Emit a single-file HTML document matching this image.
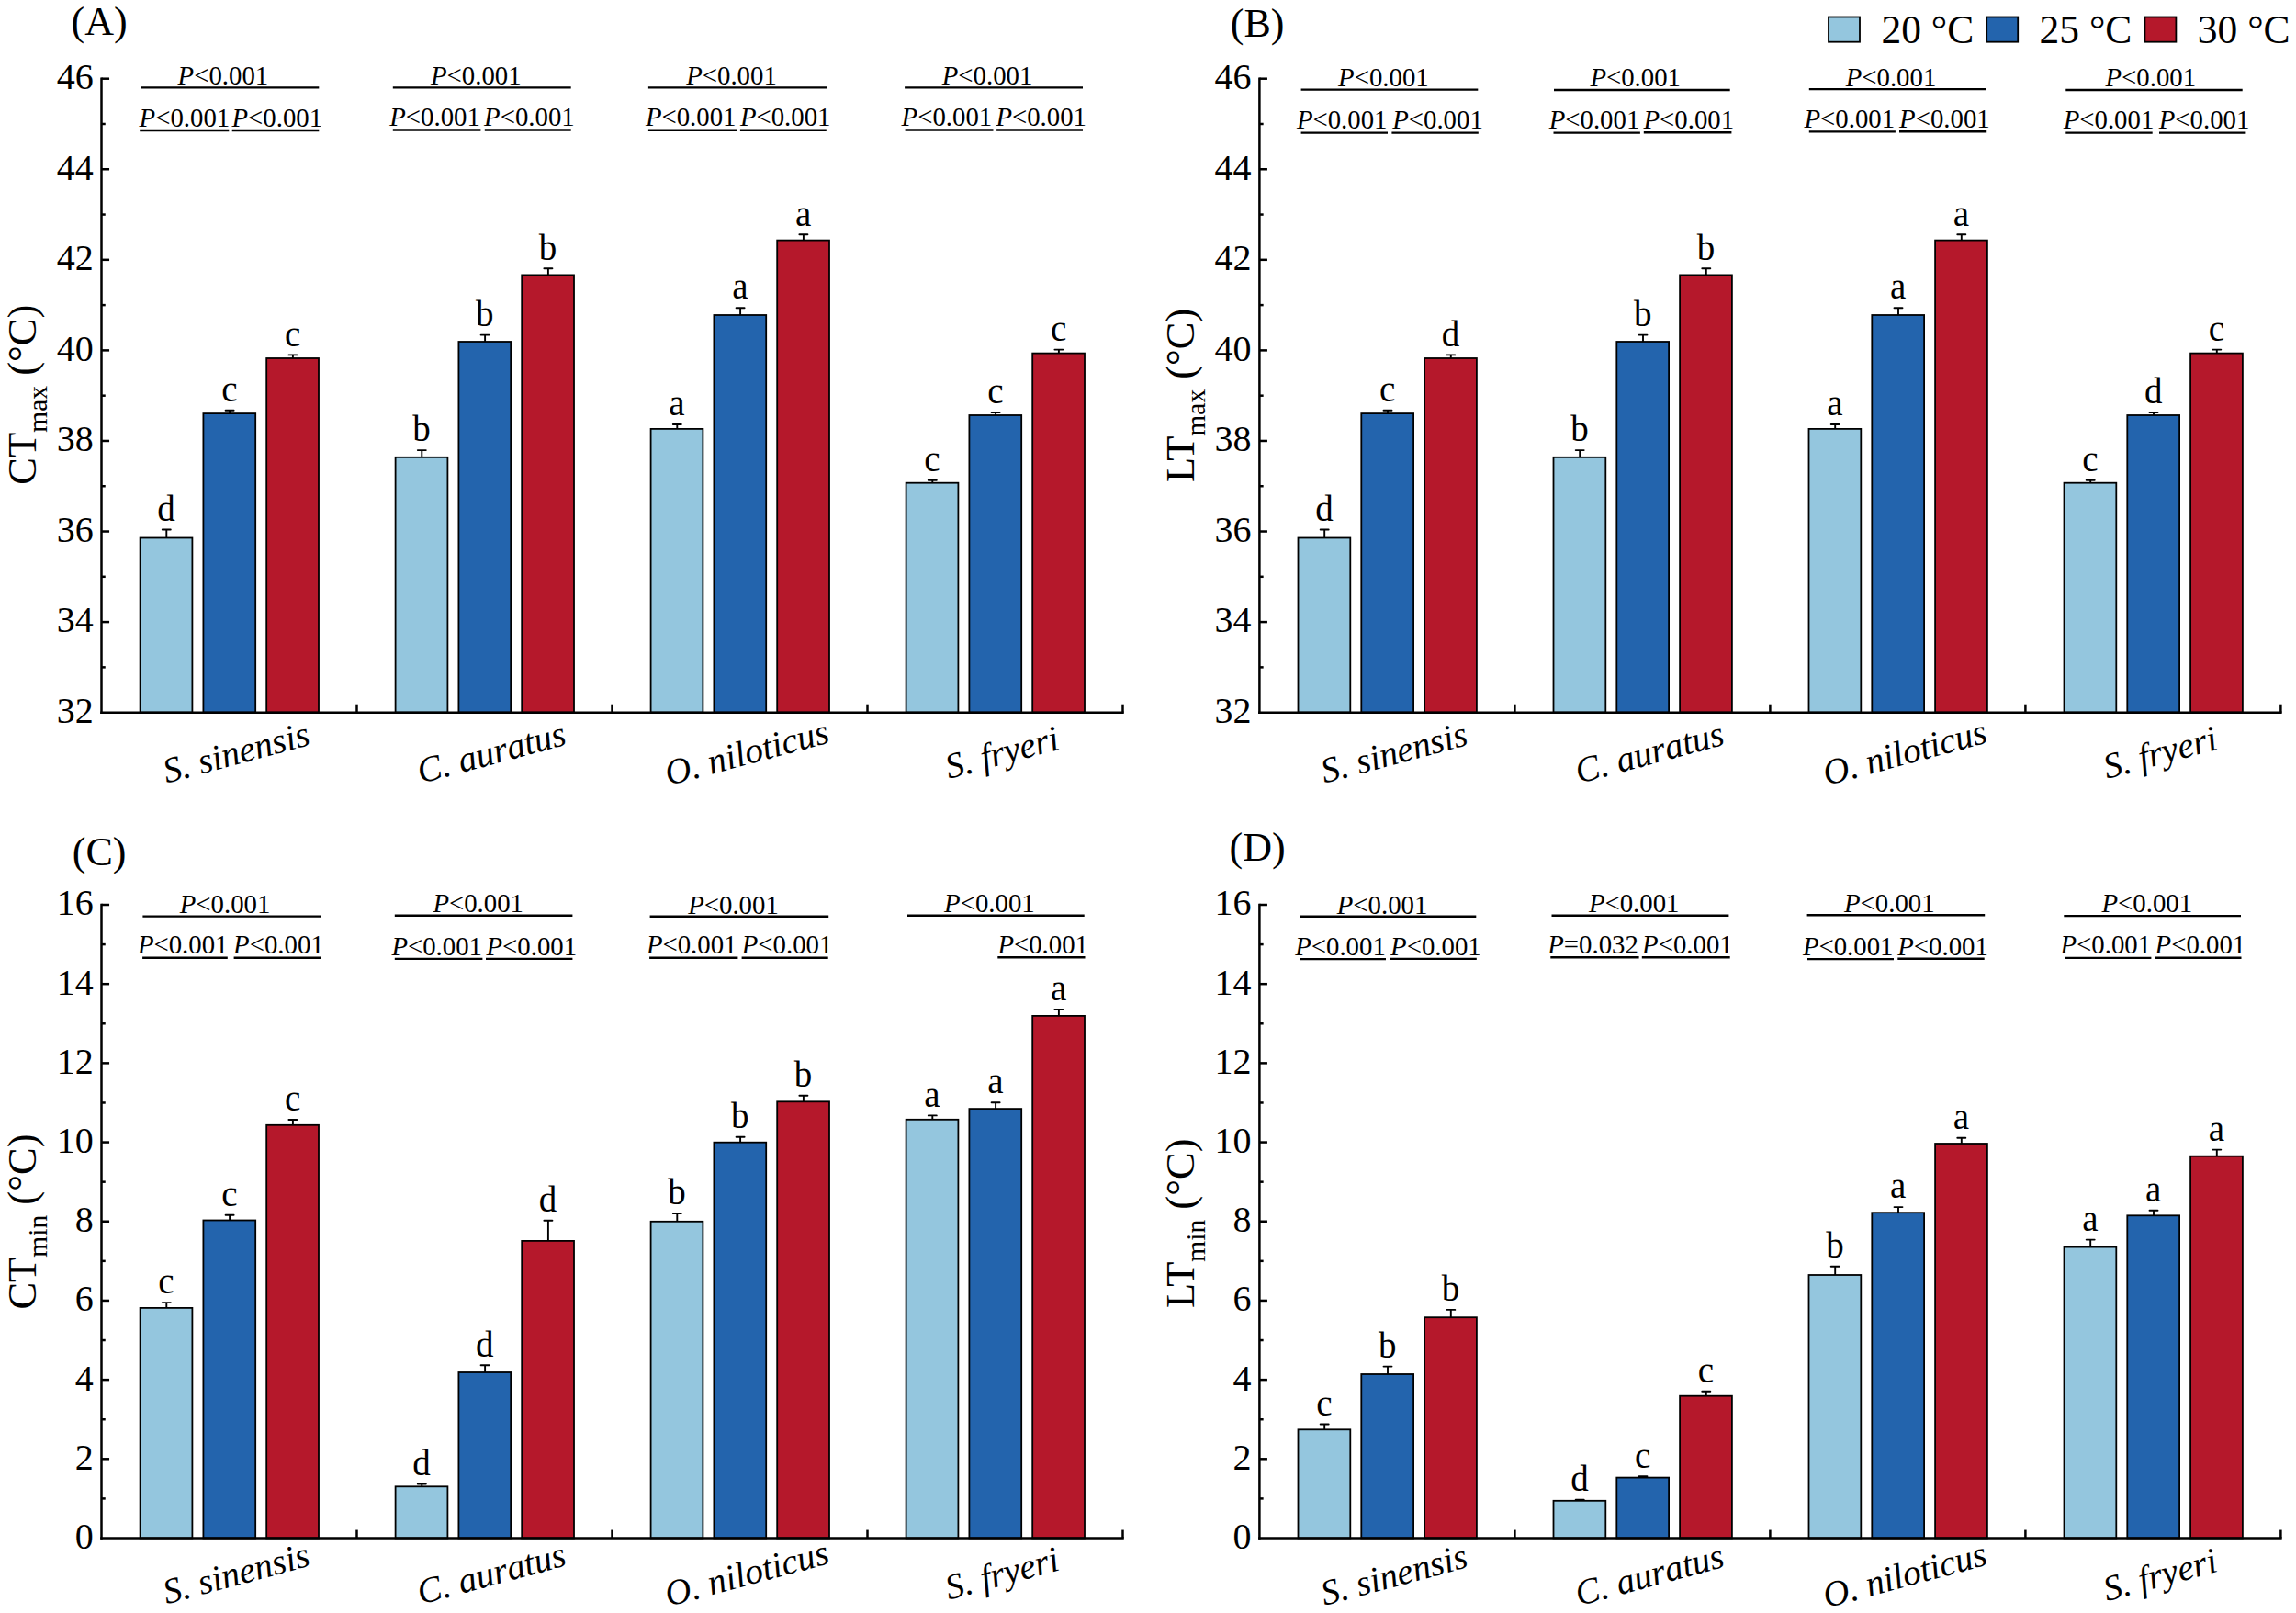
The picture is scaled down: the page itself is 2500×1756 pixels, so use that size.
<!DOCTYPE html>
<html lang="en">
<head>
<meta charset="utf-8">
<title>Thermal tolerance of four fish species at three acclimation temperatures</title>
<style>
html,body{margin:0;padding:0;background:#fff;}
body{width:2500px;height:1756px;overflow:hidden;}
svg{display:block;}
</style>
</head>
<body>
<svg width="2500" height="1756" viewBox="0 0 2500 1756" font-family="'Liberation Serif', serif" fill="#000">
<rect width="2500" height="1756" fill="#fff"/>
<line x1="181.30" y1="585.50" x2="181.30" y2="576.50" stroke="#000" stroke-width="1.9" stroke-linecap="butt"/>
<line x1="176.80" y1="576.50" x2="185.80" y2="576.50" stroke="#000" stroke-width="1.9" stroke-linecap="round"/>
<rect x="152.60" y="585.50" width="56.80" height="190.15" fill="#94C6DE" stroke="#000" stroke-width="1.8"/>
<text x="181.00" y="566.70" font-size="39" text-anchor="middle">d</text>
<line x1="250.10" y1="450.10" x2="250.10" y2="446.70" stroke="#000" stroke-width="1.9" stroke-linecap="butt"/>
<line x1="245.60" y1="446.70" x2="254.60" y2="446.70" stroke="#000" stroke-width="1.9" stroke-linecap="round"/>
<rect x="221.40" y="450.10" width="56.80" height="325.55" fill="#2364AD" stroke="#000" stroke-width="1.8"/>
<text x="249.80" y="436.90" font-size="39" text-anchor="middle">c</text>
<line x1="318.90" y1="390.00" x2="318.90" y2="386.40" stroke="#000" stroke-width="1.9" stroke-linecap="butt"/>
<line x1="314.40" y1="386.40" x2="323.40" y2="386.40" stroke="#000" stroke-width="1.9" stroke-linecap="round"/>
<rect x="290.20" y="390.00" width="56.80" height="385.65" fill="#B5182B" stroke="#000" stroke-width="1.8"/>
<text x="318.60" y="376.60" font-size="39" text-anchor="middle">c</text>
<line x1="459.30" y1="497.80" x2="459.30" y2="490.10" stroke="#000" stroke-width="1.9" stroke-linecap="butt"/>
<line x1="454.80" y1="490.10" x2="463.80" y2="490.10" stroke="#000" stroke-width="1.9" stroke-linecap="round"/>
<rect x="430.60" y="497.80" width="56.80" height="277.85" fill="#94C6DE" stroke="#000" stroke-width="1.8"/>
<text x="459.00" y="480.30" font-size="39" text-anchor="middle">b</text>
<line x1="528.10" y1="372.00" x2="528.10" y2="364.60" stroke="#000" stroke-width="1.9" stroke-linecap="butt"/>
<line x1="523.60" y1="364.60" x2="532.60" y2="364.60" stroke="#000" stroke-width="1.9" stroke-linecap="round"/>
<rect x="499.40" y="372.00" width="56.80" height="403.65" fill="#2364AD" stroke="#000" stroke-width="1.8"/>
<text x="527.80" y="354.80" font-size="39" text-anchor="middle">b</text>
<line x1="596.90" y1="299.40" x2="596.90" y2="292.30" stroke="#000" stroke-width="1.9" stroke-linecap="butt"/>
<line x1="592.40" y1="292.30" x2="601.40" y2="292.30" stroke="#000" stroke-width="1.9" stroke-linecap="round"/>
<rect x="568.20" y="299.40" width="56.80" height="476.25" fill="#B5182B" stroke="#000" stroke-width="1.8"/>
<text x="596.60" y="282.50" font-size="39" text-anchor="middle">b</text>
<line x1="737.30" y1="466.90" x2="737.30" y2="462.00" stroke="#000" stroke-width="1.9" stroke-linecap="butt"/>
<line x1="732.80" y1="462.00" x2="741.80" y2="462.00" stroke="#000" stroke-width="1.9" stroke-linecap="round"/>
<rect x="708.60" y="466.90" width="56.80" height="308.75" fill="#94C6DE" stroke="#000" stroke-width="1.8"/>
<text x="737.00" y="452.20" font-size="39" text-anchor="middle">a</text>
<line x1="806.10" y1="343.00" x2="806.10" y2="335.20" stroke="#000" stroke-width="1.9" stroke-linecap="butt"/>
<line x1="801.60" y1="335.20" x2="810.60" y2="335.20" stroke="#000" stroke-width="1.9" stroke-linecap="round"/>
<rect x="777.40" y="343.00" width="56.80" height="432.65" fill="#2364AD" stroke="#000" stroke-width="1.8"/>
<text x="805.80" y="325.40" font-size="39" text-anchor="middle">a</text>
<line x1="874.90" y1="261.60" x2="874.90" y2="255.30" stroke="#000" stroke-width="1.9" stroke-linecap="butt"/>
<line x1="870.40" y1="255.30" x2="879.40" y2="255.30" stroke="#000" stroke-width="1.9" stroke-linecap="round"/>
<rect x="846.20" y="261.60" width="56.80" height="514.05" fill="#B5182B" stroke="#000" stroke-width="1.8"/>
<text x="874.60" y="245.50" font-size="39" text-anchor="middle">a</text>
<line x1="1015.30" y1="525.70" x2="1015.30" y2="522.80" stroke="#000" stroke-width="1.9" stroke-linecap="butt"/>
<line x1="1010.80" y1="522.80" x2="1019.80" y2="522.80" stroke="#000" stroke-width="1.9" stroke-linecap="round"/>
<rect x="986.60" y="525.70" width="56.80" height="249.95" fill="#94C6DE" stroke="#000" stroke-width="1.8"/>
<text x="1015.00" y="513.00" font-size="39" text-anchor="middle">c</text>
<line x1="1084.10" y1="452.00" x2="1084.10" y2="449.10" stroke="#000" stroke-width="1.9" stroke-linecap="butt"/>
<line x1="1079.60" y1="449.10" x2="1088.60" y2="449.10" stroke="#000" stroke-width="1.9" stroke-linecap="round"/>
<rect x="1055.40" y="452.00" width="56.80" height="323.65" fill="#2364AD" stroke="#000" stroke-width="1.8"/>
<text x="1083.80" y="439.30" font-size="39" text-anchor="middle">c</text>
<line x1="1152.90" y1="384.60" x2="1152.90" y2="380.60" stroke="#000" stroke-width="1.9" stroke-linecap="butt"/>
<line x1="1148.40" y1="380.60" x2="1157.40" y2="380.60" stroke="#000" stroke-width="1.9" stroke-linecap="round"/>
<rect x="1124.20" y="384.60" width="56.80" height="391.05" fill="#B5182B" stroke="#000" stroke-width="1.8"/>
<text x="1152.60" y="370.80" font-size="39" text-anchor="middle">c</text>
<line x1="110.50" y1="84.45" x2="110.50" y2="776.90" stroke="#000" stroke-width="2.5" stroke-linecap="butt"/>
<line x1="109.25" y1="775.65" x2="1223.75" y2="775.65" stroke="#000" stroke-width="2.5" stroke-linecap="butt"/>
<text x="101.70" y="787.05" font-size="40" text-anchor="end">32</text>
<line x1="110.50" y1="726.37" x2="114.75" y2="726.37" stroke="#000" stroke-width="2.5" stroke-linecap="butt"/>
<line x1="110.50" y1="677.09" x2="119.05" y2="677.09" stroke="#000" stroke-width="2.5" stroke-linecap="butt"/>
<text x="101.70" y="688.49" font-size="40" text-anchor="end">34</text>
<line x1="110.50" y1="627.80" x2="114.75" y2="627.80" stroke="#000" stroke-width="2.5" stroke-linecap="butt"/>
<line x1="110.50" y1="578.52" x2="119.05" y2="578.52" stroke="#000" stroke-width="2.5" stroke-linecap="butt"/>
<text x="101.70" y="589.92" font-size="40" text-anchor="end">36</text>
<line x1="110.50" y1="529.24" x2="114.75" y2="529.24" stroke="#000" stroke-width="2.5" stroke-linecap="butt"/>
<line x1="110.50" y1="479.96" x2="119.05" y2="479.96" stroke="#000" stroke-width="2.5" stroke-linecap="butt"/>
<text x="101.70" y="491.36" font-size="40" text-anchor="end">38</text>
<line x1="110.50" y1="430.68" x2="114.75" y2="430.68" stroke="#000" stroke-width="2.5" stroke-linecap="butt"/>
<line x1="110.50" y1="381.39" x2="119.05" y2="381.39" stroke="#000" stroke-width="2.5" stroke-linecap="butt"/>
<text x="101.70" y="392.79" font-size="40" text-anchor="end">40</text>
<line x1="110.50" y1="332.11" x2="114.75" y2="332.11" stroke="#000" stroke-width="2.5" stroke-linecap="butt"/>
<line x1="110.50" y1="282.83" x2="119.05" y2="282.83" stroke="#000" stroke-width="2.5" stroke-linecap="butt"/>
<text x="101.70" y="294.23" font-size="40" text-anchor="end">42</text>
<line x1="110.50" y1="233.55" x2="114.75" y2="233.55" stroke="#000" stroke-width="2.5" stroke-linecap="butt"/>
<line x1="110.50" y1="184.26" x2="119.05" y2="184.26" stroke="#000" stroke-width="2.5" stroke-linecap="butt"/>
<text x="101.70" y="195.66" font-size="40" text-anchor="end">44</text>
<line x1="110.50" y1="134.98" x2="114.75" y2="134.98" stroke="#000" stroke-width="2.5" stroke-linecap="butt"/>
<line x1="110.50" y1="85.70" x2="119.05" y2="85.70" stroke="#000" stroke-width="2.5" stroke-linecap="butt"/>
<text x="101.70" y="97.10" font-size="40" text-anchor="end">46</text>
<line x1="388.50" y1="775.65" x2="388.50" y2="766.70" stroke="#000" stroke-width="2.5" stroke-linecap="butt"/>
<line x1="666.50" y1="775.65" x2="666.50" y2="766.70" stroke="#000" stroke-width="2.5" stroke-linecap="butt"/>
<line x1="944.50" y1="775.65" x2="944.50" y2="766.70" stroke="#000" stroke-width="2.5" stroke-linecap="butt"/>
<line x1="1222.50" y1="775.65" x2="1222.50" y2="766.70" stroke="#000" stroke-width="2.5" stroke-linecap="butt"/>
<text transform="translate(260.30,831.65) rotate(-15)" font-size="39.2" font-style="italic" text-anchor="middle">S. sinensis</text>
<text transform="translate(538.30,831.65) rotate(-15)" font-size="39.2" font-style="italic" text-anchor="middle">C. auratus</text>
<text transform="translate(816.30,831.65) rotate(-15)" font-size="39.2" font-style="italic" text-anchor="middle">O. niloticus</text>
<text transform="translate(1094.30,831.65) rotate(-15)" font-size="39.2" font-style="italic" text-anchor="middle">S. fryeri</text>
<text x="77.60" y="38.00" font-size="44" text-anchor="start">(A)</text>
<text transform="translate(38.90,429.68) rotate(-90)" font-size="44.5" text-anchor="middle">CT<tspan font-size="29.5" dy="12">max</tspan><tspan dy="-12"> (°C)</tspan></text>
<text x="242.90" y="92.00" font-size="28.8" text-anchor="middle"><tspan font-style="italic">P</tspan>&lt;0.001</text>
<line x1="153.40" y1="95.40" x2="347.30" y2="95.40" stroke="#000" stroke-width="2.4" stroke-linecap="butt"/>
<text x="200.90" y="137.80" font-size="28.8" text-anchor="middle"><tspan font-style="italic">P</tspan>&lt;0.001</text>
<line x1="152.20" y1="142.00" x2="249.30" y2="142.00" stroke="#000" stroke-width="2.4" stroke-linecap="butt"/>
<text x="301.80" y="137.80" font-size="28.8" text-anchor="middle"><tspan font-style="italic">P</tspan>&lt;0.001</text>
<line x1="252.70" y1="142.00" x2="347.30" y2="142.00" stroke="#000" stroke-width="2.4" stroke-linecap="butt"/>
<text x="518.30" y="92.00" font-size="28.8" text-anchor="middle"><tspan font-style="italic">P</tspan>&lt;0.001</text>
<line x1="427.80" y1="95.40" x2="621.70" y2="95.40" stroke="#000" stroke-width="2.4" stroke-linecap="butt"/>
<text x="473.60" y="137.10" font-size="28.8" text-anchor="middle"><tspan font-style="italic">P</tspan>&lt;0.001</text>
<line x1="427.80" y1="141.50" x2="523.40" y2="141.50" stroke="#000" stroke-width="2.4" stroke-linecap="butt"/>
<text x="576.40" y="137.10" font-size="28.8" text-anchor="middle"><tspan font-style="italic">P</tspan>&lt;0.001</text>
<line x1="527.80" y1="141.50" x2="621.70" y2="141.50" stroke="#000" stroke-width="2.4" stroke-linecap="butt"/>
<text x="796.50" y="92.00" font-size="28.8" text-anchor="middle"><tspan font-style="italic">P</tspan>&lt;0.001</text>
<line x1="705.90" y1="95.40" x2="900.20" y2="95.40" stroke="#000" stroke-width="2.4" stroke-linecap="butt"/>
<text x="752.20" y="137.30" font-size="28.8" text-anchor="middle"><tspan font-style="italic">P</tspan>&lt;0.001</text>
<line x1="705.90" y1="141.70" x2="802.20" y2="141.70" stroke="#000" stroke-width="2.4" stroke-linecap="butt"/>
<text x="855.20" y="137.30" font-size="28.8" text-anchor="middle"><tspan font-style="italic">P</tspan>&lt;0.001</text>
<line x1="805.90" y1="141.70" x2="899.80" y2="141.70" stroke="#000" stroke-width="2.4" stroke-linecap="butt"/>
<text x="1075.10" y="91.50" font-size="28.8" text-anchor="middle"><tspan font-style="italic">P</tspan>&lt;0.001</text>
<line x1="985.10" y1="95.40" x2="1179.00" y2="95.40" stroke="#000" stroke-width="2.4" stroke-linecap="butt"/>
<text x="1030.90" y="137.10" font-size="28.8" text-anchor="middle"><tspan font-style="italic">P</tspan>&lt;0.001</text>
<line x1="985.60" y1="141.50" x2="1081.50" y2="141.50" stroke="#000" stroke-width="2.4" stroke-linecap="butt"/>
<text x="1133.70" y="137.10" font-size="28.8" text-anchor="middle"><tspan font-style="italic">P</tspan>&lt;0.001</text>
<line x1="1085.10" y1="141.50" x2="1179.00" y2="141.50" stroke="#000" stroke-width="2.4" stroke-linecap="butt"/>
<line x1="1442.20" y1="585.50" x2="1442.20" y2="576.50" stroke="#000" stroke-width="1.9" stroke-linecap="butt"/>
<line x1="1437.70" y1="576.50" x2="1446.70" y2="576.50" stroke="#000" stroke-width="1.9" stroke-linecap="round"/>
<rect x="1413.50" y="585.50" width="56.80" height="190.15" fill="#94C6DE" stroke="#000" stroke-width="1.8"/>
<text x="1441.90" y="566.70" font-size="39" text-anchor="middle">d</text>
<line x1="1511.00" y1="450.10" x2="1511.00" y2="446.70" stroke="#000" stroke-width="1.9" stroke-linecap="butt"/>
<line x1="1506.50" y1="446.70" x2="1515.50" y2="446.70" stroke="#000" stroke-width="1.9" stroke-linecap="round"/>
<rect x="1482.30" y="450.10" width="56.80" height="325.55" fill="#2364AD" stroke="#000" stroke-width="1.8"/>
<text x="1510.70" y="436.90" font-size="39" text-anchor="middle">c</text>
<line x1="1579.80" y1="390.00" x2="1579.80" y2="386.40" stroke="#000" stroke-width="1.9" stroke-linecap="butt"/>
<line x1="1575.30" y1="386.40" x2="1584.30" y2="386.40" stroke="#000" stroke-width="1.9" stroke-linecap="round"/>
<rect x="1551.10" y="390.00" width="56.80" height="385.65" fill="#B5182B" stroke="#000" stroke-width="1.8"/>
<text x="1579.50" y="376.60" font-size="39" text-anchor="middle">d</text>
<line x1="1720.20" y1="497.80" x2="1720.20" y2="490.10" stroke="#000" stroke-width="1.9" stroke-linecap="butt"/>
<line x1="1715.70" y1="490.10" x2="1724.70" y2="490.10" stroke="#000" stroke-width="1.9" stroke-linecap="round"/>
<rect x="1691.50" y="497.80" width="56.80" height="277.85" fill="#94C6DE" stroke="#000" stroke-width="1.8"/>
<text x="1719.90" y="480.30" font-size="39" text-anchor="middle">b</text>
<line x1="1789.00" y1="372.00" x2="1789.00" y2="364.60" stroke="#000" stroke-width="1.9" stroke-linecap="butt"/>
<line x1="1784.50" y1="364.60" x2="1793.50" y2="364.60" stroke="#000" stroke-width="1.9" stroke-linecap="round"/>
<rect x="1760.30" y="372.00" width="56.80" height="403.65" fill="#2364AD" stroke="#000" stroke-width="1.8"/>
<text x="1788.70" y="354.80" font-size="39" text-anchor="middle">b</text>
<line x1="1857.80" y1="299.40" x2="1857.80" y2="292.30" stroke="#000" stroke-width="1.9" stroke-linecap="butt"/>
<line x1="1853.30" y1="292.30" x2="1862.30" y2="292.30" stroke="#000" stroke-width="1.9" stroke-linecap="round"/>
<rect x="1829.10" y="299.40" width="56.80" height="476.25" fill="#B5182B" stroke="#000" stroke-width="1.8"/>
<text x="1857.50" y="282.50" font-size="39" text-anchor="middle">b</text>
<line x1="1998.20" y1="466.90" x2="1998.20" y2="462.00" stroke="#000" stroke-width="1.9" stroke-linecap="butt"/>
<line x1="1993.70" y1="462.00" x2="2002.70" y2="462.00" stroke="#000" stroke-width="1.9" stroke-linecap="round"/>
<rect x="1969.50" y="466.90" width="56.80" height="308.75" fill="#94C6DE" stroke="#000" stroke-width="1.8"/>
<text x="1997.90" y="452.20" font-size="39" text-anchor="middle">a</text>
<line x1="2067.00" y1="343.00" x2="2067.00" y2="335.20" stroke="#000" stroke-width="1.9" stroke-linecap="butt"/>
<line x1="2062.50" y1="335.20" x2="2071.50" y2="335.20" stroke="#000" stroke-width="1.9" stroke-linecap="round"/>
<rect x="2038.30" y="343.00" width="56.80" height="432.65" fill="#2364AD" stroke="#000" stroke-width="1.8"/>
<text x="2066.70" y="325.40" font-size="39" text-anchor="middle">a</text>
<line x1="2135.80" y1="261.60" x2="2135.80" y2="255.30" stroke="#000" stroke-width="1.9" stroke-linecap="butt"/>
<line x1="2131.30" y1="255.30" x2="2140.30" y2="255.30" stroke="#000" stroke-width="1.9" stroke-linecap="round"/>
<rect x="2107.10" y="261.60" width="56.80" height="514.05" fill="#B5182B" stroke="#000" stroke-width="1.8"/>
<text x="2135.50" y="245.50" font-size="39" text-anchor="middle">a</text>
<line x1="2276.20" y1="525.70" x2="2276.20" y2="522.80" stroke="#000" stroke-width="1.9" stroke-linecap="butt"/>
<line x1="2271.70" y1="522.80" x2="2280.70" y2="522.80" stroke="#000" stroke-width="1.9" stroke-linecap="round"/>
<rect x="2247.50" y="525.70" width="56.80" height="249.95" fill="#94C6DE" stroke="#000" stroke-width="1.8"/>
<text x="2275.90" y="513.00" font-size="39" text-anchor="middle">c</text>
<line x1="2345.00" y1="452.00" x2="2345.00" y2="449.10" stroke="#000" stroke-width="1.9" stroke-linecap="butt"/>
<line x1="2340.50" y1="449.10" x2="2349.50" y2="449.10" stroke="#000" stroke-width="1.9" stroke-linecap="round"/>
<rect x="2316.30" y="452.00" width="56.80" height="323.65" fill="#2364AD" stroke="#000" stroke-width="1.8"/>
<text x="2344.70" y="439.30" font-size="39" text-anchor="middle">d</text>
<line x1="2413.80" y1="384.60" x2="2413.80" y2="380.60" stroke="#000" stroke-width="1.9" stroke-linecap="butt"/>
<line x1="2409.30" y1="380.60" x2="2418.30" y2="380.60" stroke="#000" stroke-width="1.9" stroke-linecap="round"/>
<rect x="2385.10" y="384.60" width="56.80" height="391.05" fill="#B5182B" stroke="#000" stroke-width="1.8"/>
<text x="2413.50" y="370.80" font-size="39" text-anchor="middle">c</text>
<line x1="1371.40" y1="84.45" x2="1371.40" y2="776.90" stroke="#000" stroke-width="2.5" stroke-linecap="butt"/>
<line x1="1370.15" y1="775.65" x2="2484.65" y2="775.65" stroke="#000" stroke-width="2.5" stroke-linecap="butt"/>
<text x="1362.60" y="787.05" font-size="40" text-anchor="end">32</text>
<line x1="1371.40" y1="726.37" x2="1375.65" y2="726.37" stroke="#000" stroke-width="2.5" stroke-linecap="butt"/>
<line x1="1371.40" y1="677.09" x2="1379.95" y2="677.09" stroke="#000" stroke-width="2.5" stroke-linecap="butt"/>
<text x="1362.60" y="688.49" font-size="40" text-anchor="end">34</text>
<line x1="1371.40" y1="627.80" x2="1375.65" y2="627.80" stroke="#000" stroke-width="2.5" stroke-linecap="butt"/>
<line x1="1371.40" y1="578.52" x2="1379.95" y2="578.52" stroke="#000" stroke-width="2.5" stroke-linecap="butt"/>
<text x="1362.60" y="589.92" font-size="40" text-anchor="end">36</text>
<line x1="1371.40" y1="529.24" x2="1375.65" y2="529.24" stroke="#000" stroke-width="2.5" stroke-linecap="butt"/>
<line x1="1371.40" y1="479.96" x2="1379.95" y2="479.96" stroke="#000" stroke-width="2.5" stroke-linecap="butt"/>
<text x="1362.60" y="491.36" font-size="40" text-anchor="end">38</text>
<line x1="1371.40" y1="430.68" x2="1375.65" y2="430.68" stroke="#000" stroke-width="2.5" stroke-linecap="butt"/>
<line x1="1371.40" y1="381.39" x2="1379.95" y2="381.39" stroke="#000" stroke-width="2.5" stroke-linecap="butt"/>
<text x="1362.60" y="392.79" font-size="40" text-anchor="end">40</text>
<line x1="1371.40" y1="332.11" x2="1375.65" y2="332.11" stroke="#000" stroke-width="2.5" stroke-linecap="butt"/>
<line x1="1371.40" y1="282.83" x2="1379.95" y2="282.83" stroke="#000" stroke-width="2.5" stroke-linecap="butt"/>
<text x="1362.60" y="294.23" font-size="40" text-anchor="end">42</text>
<line x1="1371.40" y1="233.55" x2="1375.65" y2="233.55" stroke="#000" stroke-width="2.5" stroke-linecap="butt"/>
<line x1="1371.40" y1="184.26" x2="1379.95" y2="184.26" stroke="#000" stroke-width="2.5" stroke-linecap="butt"/>
<text x="1362.60" y="195.66" font-size="40" text-anchor="end">44</text>
<line x1="1371.40" y1="134.98" x2="1375.65" y2="134.98" stroke="#000" stroke-width="2.5" stroke-linecap="butt"/>
<line x1="1371.40" y1="85.70" x2="1379.95" y2="85.70" stroke="#000" stroke-width="2.5" stroke-linecap="butt"/>
<text x="1362.60" y="97.10" font-size="40" text-anchor="end">46</text>
<line x1="1649.40" y1="775.65" x2="1649.40" y2="766.70" stroke="#000" stroke-width="2.5" stroke-linecap="butt"/>
<line x1="1927.40" y1="775.65" x2="1927.40" y2="766.70" stroke="#000" stroke-width="2.5" stroke-linecap="butt"/>
<line x1="2205.40" y1="775.65" x2="2205.40" y2="766.70" stroke="#000" stroke-width="2.5" stroke-linecap="butt"/>
<line x1="2483.40" y1="775.65" x2="2483.40" y2="766.70" stroke="#000" stroke-width="2.5" stroke-linecap="butt"/>
<text transform="translate(1521.20,831.65) rotate(-15)" font-size="39.2" font-style="italic" text-anchor="middle">S. sinensis</text>
<text transform="translate(1799.20,831.65) rotate(-15)" font-size="39.2" font-style="italic" text-anchor="middle">C. auratus</text>
<text transform="translate(2077.20,831.65) rotate(-15)" font-size="39.2" font-style="italic" text-anchor="middle">O. niloticus</text>
<text transform="translate(2355.20,831.65) rotate(-15)" font-size="39.2" font-style="italic" text-anchor="middle">S. fryeri</text>
<text x="1339.80" y="39.70" font-size="44" text-anchor="start">(B)</text>
<text transform="translate(1299.80,430.28) rotate(-90)" font-size="44.5" text-anchor="middle">LT<tspan font-size="29.5" dy="12">max</tspan><tspan dy="-12"> (°C)</tspan></text>
<text x="1506.40" y="94.40" font-size="28.8" text-anchor="middle"><tspan font-style="italic">P</tspan>&lt;0.001</text>
<line x1="1416.60" y1="97.60" x2="1609.30" y2="97.60" stroke="#000" stroke-width="2.4" stroke-linecap="butt"/>
<text x="1461.20" y="140.20" font-size="28.8" text-anchor="middle"><tspan font-style="italic">P</tspan>&lt;0.001</text>
<line x1="1416.60" y1="144.60" x2="1511.00" y2="144.60" stroke="#000" stroke-width="2.4" stroke-linecap="butt"/>
<text x="1565.50" y="140.20" font-size="28.8" text-anchor="middle"><tspan font-style="italic">P</tspan>&lt;0.001</text>
<line x1="1515.40" y1="144.60" x2="1609.80" y2="144.60" stroke="#000" stroke-width="2.4" stroke-linecap="butt"/>
<text x="1780.70" y="94.40" font-size="28.8" text-anchor="middle"><tspan font-style="italic">P</tspan>&lt;0.001</text>
<line x1="1692.00" y1="98.00" x2="1883.70" y2="98.00" stroke="#000" stroke-width="2.4" stroke-linecap="butt"/>
<text x="1736.00" y="140.20" font-size="28.8" text-anchor="middle"><tspan font-style="italic">P</tspan>&lt;0.001</text>
<line x1="1691.50" y1="144.60" x2="1785.90" y2="144.60" stroke="#000" stroke-width="2.4" stroke-linecap="butt"/>
<text x="1838.80" y="140.20" font-size="28.8" text-anchor="middle"><tspan font-style="italic">P</tspan>&lt;0.001</text>
<line x1="1789.80" y1="144.20" x2="1885.40" y2="144.20" stroke="#000" stroke-width="2.4" stroke-linecap="butt"/>
<text x="2059.00" y="94.40" font-size="28.8" text-anchor="middle"><tspan font-style="italic">P</tspan>&lt;0.001</text>
<line x1="1969.80" y1="97.10" x2="2162.00" y2="97.10" stroke="#000" stroke-width="2.4" stroke-linecap="butt"/>
<text x="2013.80" y="139.00" font-size="28.8" text-anchor="middle"><tspan font-style="italic">P</tspan>&lt;0.001</text>
<line x1="1969.80" y1="143.40" x2="2063.90" y2="143.40" stroke="#000" stroke-width="2.4" stroke-linecap="butt"/>
<text x="2117.40" y="139.00" font-size="28.8" text-anchor="middle"><tspan font-style="italic">P</tspan>&lt;0.001</text>
<line x1="2068.00" y1="143.20" x2="2163.20" y2="143.20" stroke="#000" stroke-width="2.4" stroke-linecap="butt"/>
<text x="2341.80" y="94.40" font-size="28.8" text-anchor="middle"><tspan font-style="italic">P</tspan>&lt;0.001</text>
<line x1="2249.30" y1="98.00" x2="2441.70" y2="98.00" stroke="#000" stroke-width="2.4" stroke-linecap="butt"/>
<text x="2296.00" y="140.20" font-size="28.8" text-anchor="middle"><tspan font-style="italic">P</tspan>&lt;0.001</text>
<line x1="2249.30" y1="144.60" x2="2343.70" y2="144.60" stroke="#000" stroke-width="2.4" stroke-linecap="butt"/>
<text x="2400.10" y="140.20" font-size="28.8" text-anchor="middle"><tspan font-style="italic">P</tspan>&lt;0.001</text>
<line x1="2351.00" y1="144.60" x2="2445.40" y2="144.60" stroke="#000" stroke-width="2.4" stroke-linecap="butt"/>
<line x1="181.30" y1="1423.90" x2="181.30" y2="1418.10" stroke="#000" stroke-width="1.9" stroke-linecap="butt"/>
<line x1="176.80" y1="1418.10" x2="185.80" y2="1418.10" stroke="#000" stroke-width="1.9" stroke-linecap="round"/>
<rect x="152.60" y="1423.90" width="56.80" height="250.60" fill="#94C6DE" stroke="#000" stroke-width="1.8"/>
<text x="181.00" y="1408.30" font-size="39" text-anchor="middle">c</text>
<line x1="250.10" y1="1328.50" x2="250.10" y2="1322.80" stroke="#000" stroke-width="1.9" stroke-linecap="butt"/>
<line x1="245.60" y1="1322.80" x2="254.60" y2="1322.80" stroke="#000" stroke-width="1.9" stroke-linecap="round"/>
<rect x="221.40" y="1328.50" width="56.80" height="346.00" fill="#2364AD" stroke="#000" stroke-width="1.8"/>
<text x="249.80" y="1313.00" font-size="39" text-anchor="middle">c</text>
<line x1="318.90" y1="1224.80" x2="318.90" y2="1219.00" stroke="#000" stroke-width="1.9" stroke-linecap="butt"/>
<line x1="314.40" y1="1219.00" x2="323.40" y2="1219.00" stroke="#000" stroke-width="1.9" stroke-linecap="round"/>
<rect x="290.20" y="1224.80" width="56.80" height="449.70" fill="#B5182B" stroke="#000" stroke-width="1.8"/>
<text x="318.60" y="1209.20" font-size="39" text-anchor="middle">c</text>
<line x1="459.30" y1="1618.30" x2="459.30" y2="1615.50" stroke="#000" stroke-width="1.9" stroke-linecap="butt"/>
<line x1="454.80" y1="1615.50" x2="463.80" y2="1615.50" stroke="#000" stroke-width="1.9" stroke-linecap="round"/>
<rect x="430.60" y="1618.30" width="56.80" height="56.20" fill="#94C6DE" stroke="#000" stroke-width="1.8"/>
<text x="459.00" y="1605.70" font-size="39" text-anchor="middle">d</text>
<line x1="528.10" y1="1494.00" x2="528.10" y2="1486.30" stroke="#000" stroke-width="1.9" stroke-linecap="butt"/>
<line x1="523.60" y1="1486.30" x2="532.60" y2="1486.30" stroke="#000" stroke-width="1.9" stroke-linecap="round"/>
<rect x="499.40" y="1494.00" width="56.80" height="180.50" fill="#2364AD" stroke="#000" stroke-width="1.8"/>
<text x="527.80" y="1476.50" font-size="39" text-anchor="middle">d</text>
<line x1="596.90" y1="1350.90" x2="596.90" y2="1328.70" stroke="#000" stroke-width="1.9" stroke-linecap="butt"/>
<line x1="592.40" y1="1328.70" x2="601.40" y2="1328.70" stroke="#000" stroke-width="1.9" stroke-linecap="round"/>
<rect x="568.20" y="1350.90" width="56.80" height="323.60" fill="#B5182B" stroke="#000" stroke-width="1.8"/>
<text x="596.60" y="1318.90" font-size="39" text-anchor="middle">d</text>
<line x1="737.30" y1="1329.80" x2="737.30" y2="1321.00" stroke="#000" stroke-width="1.9" stroke-linecap="butt"/>
<line x1="732.80" y1="1321.00" x2="741.80" y2="1321.00" stroke="#000" stroke-width="1.9" stroke-linecap="round"/>
<rect x="708.60" y="1329.80" width="56.80" height="344.70" fill="#94C6DE" stroke="#000" stroke-width="1.8"/>
<text x="737.00" y="1311.20" font-size="39" text-anchor="middle">b</text>
<line x1="806.10" y1="1243.70" x2="806.10" y2="1237.80" stroke="#000" stroke-width="1.9" stroke-linecap="butt"/>
<line x1="801.60" y1="1237.80" x2="810.60" y2="1237.80" stroke="#000" stroke-width="1.9" stroke-linecap="round"/>
<rect x="777.40" y="1243.70" width="56.80" height="430.80" fill="#2364AD" stroke="#000" stroke-width="1.8"/>
<text x="805.80" y="1228.00" font-size="39" text-anchor="middle">b</text>
<line x1="874.90" y1="1199.30" x2="874.90" y2="1192.70" stroke="#000" stroke-width="1.9" stroke-linecap="butt"/>
<line x1="870.40" y1="1192.70" x2="879.40" y2="1192.70" stroke="#000" stroke-width="1.9" stroke-linecap="round"/>
<rect x="846.20" y="1199.30" width="56.80" height="475.20" fill="#B5182B" stroke="#000" stroke-width="1.8"/>
<text x="874.60" y="1182.90" font-size="39" text-anchor="middle">b</text>
<line x1="1015.30" y1="1218.80" x2="1015.30" y2="1214.40" stroke="#000" stroke-width="1.9" stroke-linecap="butt"/>
<line x1="1010.80" y1="1214.40" x2="1019.80" y2="1214.40" stroke="#000" stroke-width="1.9" stroke-linecap="round"/>
<rect x="986.60" y="1218.80" width="56.80" height="455.70" fill="#94C6DE" stroke="#000" stroke-width="1.8"/>
<text x="1015.00" y="1204.60" font-size="39" text-anchor="middle">a</text>
<line x1="1084.10" y1="1207.10" x2="1084.10" y2="1200.20" stroke="#000" stroke-width="1.9" stroke-linecap="butt"/>
<line x1="1079.60" y1="1200.20" x2="1088.60" y2="1200.20" stroke="#000" stroke-width="1.9" stroke-linecap="round"/>
<rect x="1055.40" y="1207.10" width="56.80" height="467.40" fill="#2364AD" stroke="#000" stroke-width="1.8"/>
<text x="1083.80" y="1190.40" font-size="39" text-anchor="middle">a</text>
<line x1="1152.90" y1="1105.90" x2="1152.90" y2="1099.00" stroke="#000" stroke-width="1.9" stroke-linecap="butt"/>
<line x1="1148.40" y1="1099.00" x2="1157.40" y2="1099.00" stroke="#000" stroke-width="1.9" stroke-linecap="round"/>
<rect x="1124.20" y="1105.90" width="56.80" height="568.60" fill="#B5182B" stroke="#000" stroke-width="1.8"/>
<text x="1152.60" y="1089.20" font-size="39" text-anchor="middle">a</text>
<line x1="110.50" y1="983.75" x2="110.50" y2="1675.75" stroke="#000" stroke-width="2.5" stroke-linecap="butt"/>
<line x1="109.25" y1="1674.50" x2="1223.75" y2="1674.50" stroke="#000" stroke-width="2.5" stroke-linecap="butt"/>
<text x="101.70" y="1685.90" font-size="40" text-anchor="end">0</text>
<line x1="110.50" y1="1631.41" x2="114.75" y2="1631.41" stroke="#000" stroke-width="2.5" stroke-linecap="butt"/>
<line x1="110.50" y1="1588.31" x2="119.05" y2="1588.31" stroke="#000" stroke-width="2.5" stroke-linecap="butt"/>
<text x="101.70" y="1599.71" font-size="40" text-anchor="end">2</text>
<line x1="110.50" y1="1545.22" x2="114.75" y2="1545.22" stroke="#000" stroke-width="2.5" stroke-linecap="butt"/>
<line x1="110.50" y1="1502.12" x2="119.05" y2="1502.12" stroke="#000" stroke-width="2.5" stroke-linecap="butt"/>
<text x="101.70" y="1513.53" font-size="40" text-anchor="end">4</text>
<line x1="110.50" y1="1459.03" x2="114.75" y2="1459.03" stroke="#000" stroke-width="2.5" stroke-linecap="butt"/>
<line x1="110.50" y1="1415.94" x2="119.05" y2="1415.94" stroke="#000" stroke-width="2.5" stroke-linecap="butt"/>
<text x="101.70" y="1427.34" font-size="40" text-anchor="end">6</text>
<line x1="110.50" y1="1372.84" x2="114.75" y2="1372.84" stroke="#000" stroke-width="2.5" stroke-linecap="butt"/>
<line x1="110.50" y1="1329.75" x2="119.05" y2="1329.75" stroke="#000" stroke-width="2.5" stroke-linecap="butt"/>
<text x="101.70" y="1341.15" font-size="40" text-anchor="end">8</text>
<line x1="110.50" y1="1286.66" x2="114.75" y2="1286.66" stroke="#000" stroke-width="2.5" stroke-linecap="butt"/>
<line x1="110.50" y1="1243.56" x2="119.05" y2="1243.56" stroke="#000" stroke-width="2.5" stroke-linecap="butt"/>
<text x="101.70" y="1254.96" font-size="40" text-anchor="end">10</text>
<line x1="110.50" y1="1200.47" x2="114.75" y2="1200.47" stroke="#000" stroke-width="2.5" stroke-linecap="butt"/>
<line x1="110.50" y1="1157.38" x2="119.05" y2="1157.38" stroke="#000" stroke-width="2.5" stroke-linecap="butt"/>
<text x="101.70" y="1168.78" font-size="40" text-anchor="end">12</text>
<line x1="110.50" y1="1114.28" x2="114.75" y2="1114.28" stroke="#000" stroke-width="2.5" stroke-linecap="butt"/>
<line x1="110.50" y1="1071.19" x2="119.05" y2="1071.19" stroke="#000" stroke-width="2.5" stroke-linecap="butt"/>
<text x="101.70" y="1082.59" font-size="40" text-anchor="end">14</text>
<line x1="110.50" y1="1028.09" x2="114.75" y2="1028.09" stroke="#000" stroke-width="2.5" stroke-linecap="butt"/>
<line x1="110.50" y1="985.00" x2="119.05" y2="985.00" stroke="#000" stroke-width="2.5" stroke-linecap="butt"/>
<text x="101.70" y="996.40" font-size="40" text-anchor="end">16</text>
<line x1="388.50" y1="1674.50" x2="388.50" y2="1665.55" stroke="#000" stroke-width="2.5" stroke-linecap="butt"/>
<line x1="666.50" y1="1674.50" x2="666.50" y2="1665.55" stroke="#000" stroke-width="2.5" stroke-linecap="butt"/>
<line x1="944.50" y1="1674.50" x2="944.50" y2="1665.55" stroke="#000" stroke-width="2.5" stroke-linecap="butt"/>
<line x1="1222.50" y1="1674.50" x2="1222.50" y2="1665.55" stroke="#000" stroke-width="2.5" stroke-linecap="butt"/>
<text transform="translate(260.30,1725.30) rotate(-15)" font-size="39.2" font-style="italic" text-anchor="middle">S. sinensis</text>
<text transform="translate(538.30,1725.30) rotate(-15)" font-size="39.2" font-style="italic" text-anchor="middle">C. auratus</text>
<text transform="translate(816.30,1725.30) rotate(-15)" font-size="39.2" font-style="italic" text-anchor="middle">O. niloticus</text>
<text transform="translate(1094.30,1725.30) rotate(-15)" font-size="39.2" font-style="italic" text-anchor="middle">S. fryeri</text>
<text x="78.80" y="941.80" font-size="44" text-anchor="start">(C)</text>
<text transform="translate(38.90,1330.05) rotate(-90)" font-size="44.5" text-anchor="middle">CT<tspan font-size="29.5" dy="12">min</tspan><tspan dy="-12"> (°C)</tspan></text>
<text x="245.10" y="994.40" font-size="28.8" text-anchor="middle"><tspan font-style="italic">P</tspan>&lt;0.001</text>
<line x1="155.40" y1="997.60" x2="349.30" y2="997.60" stroke="#000" stroke-width="2.4" stroke-linecap="butt"/>
<text x="199.20" y="1038.30" font-size="28.8" text-anchor="middle"><tspan font-style="italic">P</tspan>&lt;0.001</text>
<line x1="155.10" y1="1042.70" x2="247.80" y2="1042.70" stroke="#000" stroke-width="2.4" stroke-linecap="butt"/>
<text x="303.40" y="1038.30" font-size="28.8" text-anchor="middle"><tspan font-style="italic">P</tspan>&lt;0.001</text>
<line x1="254.60" y1="1042.70" x2="349.30" y2="1042.70" stroke="#000" stroke-width="2.4" stroke-linecap="butt"/>
<text x="520.70" y="993.40" font-size="28.8" text-anchor="middle"><tspan font-style="italic">P</tspan>&lt;0.001</text>
<line x1="429.80" y1="996.80" x2="623.40" y2="996.80" stroke="#000" stroke-width="2.4" stroke-linecap="butt"/>
<text x="475.70" y="1039.80" font-size="28.8" text-anchor="middle"><tspan font-style="italic">P</tspan>&lt;0.001</text>
<line x1="429.80" y1="1043.90" x2="525.40" y2="1043.90" stroke="#000" stroke-width="2.4" stroke-linecap="butt"/>
<text x="578.80" y="1039.80" font-size="28.8" text-anchor="middle"><tspan font-style="italic">P</tspan>&lt;0.001</text>
<line x1="529.00" y1="1043.90" x2="623.40" y2="1043.90" stroke="#000" stroke-width="2.4" stroke-linecap="butt"/>
<text x="798.50" y="994.60" font-size="28.8" text-anchor="middle"><tspan font-style="italic">P</tspan>&lt;0.001</text>
<line x1="707.60" y1="997.80" x2="902.20" y2="997.80" stroke="#000" stroke-width="2.4" stroke-linecap="butt"/>
<text x="753.20" y="1038.30" font-size="28.8" text-anchor="middle"><tspan font-style="italic">P</tspan>&lt;0.001</text>
<line x1="707.10" y1="1042.70" x2="803.40" y2="1042.70" stroke="#000" stroke-width="2.4" stroke-linecap="butt"/>
<text x="857.10" y="1038.30" font-size="28.8" text-anchor="middle"><tspan font-style="italic">P</tspan>&lt;0.001</text>
<line x1="807.60" y1="1042.70" x2="901.70" y2="1042.70" stroke="#000" stroke-width="2.4" stroke-linecap="butt"/>
<text x="1077.40" y="993.20" font-size="28.8" text-anchor="middle"><tspan font-style="italic">P</tspan>&lt;0.001</text>
<line x1="988.00" y1="996.80" x2="1180.70" y2="996.80" stroke="#000" stroke-width="2.4" stroke-linecap="butt"/>
<text x="1135.70" y="1037.80" font-size="28.8" text-anchor="middle"><tspan font-style="italic">P</tspan>&lt;0.001</text>
<line x1="1086.30" y1="1042.20" x2="1181.50" y2="1042.20" stroke="#000" stroke-width="2.4" stroke-linecap="butt"/>
<line x1="1442.20" y1="1556.30" x2="1442.20" y2="1550.50" stroke="#000" stroke-width="1.9" stroke-linecap="butt"/>
<line x1="1437.70" y1="1550.50" x2="1446.70" y2="1550.50" stroke="#000" stroke-width="1.9" stroke-linecap="round"/>
<rect x="1413.50" y="1556.30" width="56.80" height="118.20" fill="#94C6DE" stroke="#000" stroke-width="1.8"/>
<text x="1441.90" y="1540.70" font-size="39" text-anchor="middle">c</text>
<line x1="1511.00" y1="1496.00" x2="1511.00" y2="1487.60" stroke="#000" stroke-width="1.9" stroke-linecap="butt"/>
<line x1="1506.50" y1="1487.60" x2="1515.50" y2="1487.60" stroke="#000" stroke-width="1.9" stroke-linecap="round"/>
<rect x="1482.30" y="1496.00" width="56.80" height="178.50" fill="#2364AD" stroke="#000" stroke-width="1.8"/>
<text x="1510.70" y="1477.80" font-size="39" text-anchor="middle">b</text>
<line x1="1579.80" y1="1434.20" x2="1579.80" y2="1425.90" stroke="#000" stroke-width="1.9" stroke-linecap="butt"/>
<line x1="1575.30" y1="1425.90" x2="1584.30" y2="1425.90" stroke="#000" stroke-width="1.9" stroke-linecap="round"/>
<rect x="1551.10" y="1434.20" width="56.80" height="240.30" fill="#B5182B" stroke="#000" stroke-width="1.8"/>
<text x="1579.50" y="1416.10" font-size="39" text-anchor="middle">b</text>
<line x1="1720.20" y1="1633.80" x2="1720.20" y2="1632.60" stroke="#000" stroke-width="1.9" stroke-linecap="butt"/>
<line x1="1715.70" y1="1632.60" x2="1724.70" y2="1632.60" stroke="#000" stroke-width="1.9" stroke-linecap="round"/>
<rect x="1691.50" y="1633.80" width="56.80" height="40.70" fill="#94C6DE" stroke="#000" stroke-width="1.8"/>
<text x="1719.90" y="1622.80" font-size="39" text-anchor="middle">d</text>
<line x1="1789.00" y1="1608.60" x2="1789.00" y2="1607.30" stroke="#000" stroke-width="1.9" stroke-linecap="butt"/>
<line x1="1784.50" y1="1607.30" x2="1793.50" y2="1607.30" stroke="#000" stroke-width="1.9" stroke-linecap="round"/>
<rect x="1760.30" y="1608.60" width="56.80" height="65.90" fill="#2364AD" stroke="#000" stroke-width="1.8"/>
<text x="1788.70" y="1597.50" font-size="39" text-anchor="middle">c</text>
<line x1="1857.80" y1="1519.70" x2="1857.80" y2="1514.80" stroke="#000" stroke-width="1.9" stroke-linecap="butt"/>
<line x1="1853.30" y1="1514.80" x2="1862.30" y2="1514.80" stroke="#000" stroke-width="1.9" stroke-linecap="round"/>
<rect x="1829.10" y="1519.70" width="56.80" height="154.80" fill="#B5182B" stroke="#000" stroke-width="1.8"/>
<text x="1857.50" y="1505.00" font-size="39" text-anchor="middle">c</text>
<line x1="1998.20" y1="1388.00" x2="1998.20" y2="1378.80" stroke="#000" stroke-width="1.9" stroke-linecap="butt"/>
<line x1="1993.70" y1="1378.80" x2="2002.70" y2="1378.80" stroke="#000" stroke-width="1.9" stroke-linecap="round"/>
<rect x="1969.50" y="1388.00" width="56.80" height="286.50" fill="#94C6DE" stroke="#000" stroke-width="1.8"/>
<text x="1997.90" y="1369.00" font-size="39" text-anchor="middle">b</text>
<line x1="2067.00" y1="1320.20" x2="2067.00" y2="1314.10" stroke="#000" stroke-width="1.9" stroke-linecap="butt"/>
<line x1="2062.50" y1="1314.10" x2="2071.50" y2="1314.10" stroke="#000" stroke-width="1.9" stroke-linecap="round"/>
<rect x="2038.30" y="1320.20" width="56.80" height="354.30" fill="#2364AD" stroke="#000" stroke-width="1.8"/>
<text x="2066.70" y="1304.30" font-size="39" text-anchor="middle">a</text>
<line x1="2135.80" y1="1245.00" x2="2135.80" y2="1238.70" stroke="#000" stroke-width="1.9" stroke-linecap="butt"/>
<line x1="2131.30" y1="1238.70" x2="2140.30" y2="1238.70" stroke="#000" stroke-width="1.9" stroke-linecap="round"/>
<rect x="2107.10" y="1245.00" width="56.80" height="429.50" fill="#B5182B" stroke="#000" stroke-width="1.8"/>
<text x="2135.50" y="1228.90" font-size="39" text-anchor="middle">a</text>
<line x1="2276.20" y1="1357.60" x2="2276.20" y2="1349.60" stroke="#000" stroke-width="1.9" stroke-linecap="butt"/>
<line x1="2271.70" y1="1349.60" x2="2280.70" y2="1349.60" stroke="#000" stroke-width="1.9" stroke-linecap="round"/>
<rect x="2247.50" y="1357.60" width="56.80" height="316.90" fill="#94C6DE" stroke="#000" stroke-width="1.8"/>
<text x="2275.90" y="1339.80" font-size="39" text-anchor="middle">a</text>
<line x1="2345.00" y1="1323.30" x2="2345.00" y2="1317.70" stroke="#000" stroke-width="1.9" stroke-linecap="butt"/>
<line x1="2340.50" y1="1317.70" x2="2349.50" y2="1317.70" stroke="#000" stroke-width="1.9" stroke-linecap="round"/>
<rect x="2316.30" y="1323.30" width="56.80" height="351.20" fill="#2364AD" stroke="#000" stroke-width="1.8"/>
<text x="2344.70" y="1307.90" font-size="39" text-anchor="middle">a</text>
<line x1="2413.80" y1="1258.70" x2="2413.80" y2="1251.60" stroke="#000" stroke-width="1.9" stroke-linecap="butt"/>
<line x1="2409.30" y1="1251.60" x2="2418.30" y2="1251.60" stroke="#000" stroke-width="1.9" stroke-linecap="round"/>
<rect x="2385.10" y="1258.70" width="56.80" height="415.80" fill="#B5182B" stroke="#000" stroke-width="1.8"/>
<text x="2413.50" y="1241.80" font-size="39" text-anchor="middle">a</text>
<line x1="1371.40" y1="983.75" x2="1371.40" y2="1675.75" stroke="#000" stroke-width="2.5" stroke-linecap="butt"/>
<line x1="1370.15" y1="1674.50" x2="2484.65" y2="1674.50" stroke="#000" stroke-width="2.5" stroke-linecap="butt"/>
<text x="1362.60" y="1685.90" font-size="40" text-anchor="end">0</text>
<line x1="1371.40" y1="1631.41" x2="1375.65" y2="1631.41" stroke="#000" stroke-width="2.5" stroke-linecap="butt"/>
<line x1="1371.40" y1="1588.31" x2="1379.95" y2="1588.31" stroke="#000" stroke-width="2.5" stroke-linecap="butt"/>
<text x="1362.60" y="1599.71" font-size="40" text-anchor="end">2</text>
<line x1="1371.40" y1="1545.22" x2="1375.65" y2="1545.22" stroke="#000" stroke-width="2.5" stroke-linecap="butt"/>
<line x1="1371.40" y1="1502.12" x2="1379.95" y2="1502.12" stroke="#000" stroke-width="2.5" stroke-linecap="butt"/>
<text x="1362.60" y="1513.53" font-size="40" text-anchor="end">4</text>
<line x1="1371.40" y1="1459.03" x2="1375.65" y2="1459.03" stroke="#000" stroke-width="2.5" stroke-linecap="butt"/>
<line x1="1371.40" y1="1415.94" x2="1379.95" y2="1415.94" stroke="#000" stroke-width="2.5" stroke-linecap="butt"/>
<text x="1362.60" y="1427.34" font-size="40" text-anchor="end">6</text>
<line x1="1371.40" y1="1372.84" x2="1375.65" y2="1372.84" stroke="#000" stroke-width="2.5" stroke-linecap="butt"/>
<line x1="1371.40" y1="1329.75" x2="1379.95" y2="1329.75" stroke="#000" stroke-width="2.5" stroke-linecap="butt"/>
<text x="1362.60" y="1341.15" font-size="40" text-anchor="end">8</text>
<line x1="1371.40" y1="1286.66" x2="1375.65" y2="1286.66" stroke="#000" stroke-width="2.5" stroke-linecap="butt"/>
<line x1="1371.40" y1="1243.56" x2="1379.95" y2="1243.56" stroke="#000" stroke-width="2.5" stroke-linecap="butt"/>
<text x="1362.60" y="1254.96" font-size="40" text-anchor="end">10</text>
<line x1="1371.40" y1="1200.47" x2="1375.65" y2="1200.47" stroke="#000" stroke-width="2.5" stroke-linecap="butt"/>
<line x1="1371.40" y1="1157.38" x2="1379.95" y2="1157.38" stroke="#000" stroke-width="2.5" stroke-linecap="butt"/>
<text x="1362.60" y="1168.78" font-size="40" text-anchor="end">12</text>
<line x1="1371.40" y1="1114.28" x2="1375.65" y2="1114.28" stroke="#000" stroke-width="2.5" stroke-linecap="butt"/>
<line x1="1371.40" y1="1071.19" x2="1379.95" y2="1071.19" stroke="#000" stroke-width="2.5" stroke-linecap="butt"/>
<text x="1362.60" y="1082.59" font-size="40" text-anchor="end">14</text>
<line x1="1371.40" y1="1028.09" x2="1375.65" y2="1028.09" stroke="#000" stroke-width="2.5" stroke-linecap="butt"/>
<line x1="1371.40" y1="985.00" x2="1379.95" y2="985.00" stroke="#000" stroke-width="2.5" stroke-linecap="butt"/>
<text x="1362.60" y="996.40" font-size="40" text-anchor="end">16</text>
<line x1="1649.40" y1="1674.50" x2="1649.40" y2="1665.55" stroke="#000" stroke-width="2.5" stroke-linecap="butt"/>
<line x1="1927.40" y1="1674.50" x2="1927.40" y2="1665.55" stroke="#000" stroke-width="2.5" stroke-linecap="butt"/>
<line x1="2205.40" y1="1674.50" x2="2205.40" y2="1665.55" stroke="#000" stroke-width="2.5" stroke-linecap="butt"/>
<line x1="2483.40" y1="1674.50" x2="2483.40" y2="1665.55" stroke="#000" stroke-width="2.5" stroke-linecap="butt"/>
<text transform="translate(1521.20,1726.80) rotate(-15)" font-size="39.2" font-style="italic" text-anchor="middle">S. sinensis</text>
<text transform="translate(1799.20,1726.80) rotate(-15)" font-size="39.2" font-style="italic" text-anchor="middle">C. auratus</text>
<text transform="translate(2077.20,1726.80) rotate(-15)" font-size="39.2" font-style="italic" text-anchor="middle">O. niloticus</text>
<text transform="translate(2355.20,1726.80) rotate(-15)" font-size="39.2" font-style="italic" text-anchor="middle">S. fryeri</text>
<text x="1338.50" y="936.90" font-size="44" text-anchor="start">(D)</text>
<text transform="translate(1299.80,1331.75) rotate(-90)" font-size="44.5" text-anchor="middle">LT<tspan font-size="29.5" dy="12">min</tspan><tspan dy="-12"> (°C)</tspan></text>
<text x="1505.10" y="994.60" font-size="28.8" text-anchor="middle"><tspan font-style="italic">P</tspan>&lt;0.001</text>
<line x1="1415.10" y1="997.80" x2="1607.30" y2="997.80" stroke="#000" stroke-width="2.4" stroke-linecap="butt"/>
<text x="1459.50" y="1039.80" font-size="28.8" text-anchor="middle"><tspan font-style="italic">P</tspan>&lt;0.001</text>
<line x1="1415.10" y1="1044.10" x2="1509.00" y2="1044.10" stroke="#000" stroke-width="2.4" stroke-linecap="butt"/>
<text x="1563.40" y="1039.80" font-size="28.8" text-anchor="middle"><tspan font-style="italic">P</tspan>&lt;0.001</text>
<line x1="1513.90" y1="1043.90" x2="1607.80" y2="1043.90" stroke="#000" stroke-width="2.4" stroke-linecap="butt"/>
<text x="1779.20" y="993.20" font-size="28.8" text-anchor="middle"><tspan font-style="italic">P</tspan>&lt;0.001</text>
<line x1="1689.50" y1="996.80" x2="1882.40" y2="996.80" stroke="#000" stroke-width="2.4" stroke-linecap="butt"/>
<text x="1734.60" y="1037.80" font-size="28.8" text-anchor="middle"><tspan font-style="italic">P</tspan>=0.032</text>
<line x1="1688.30" y1="1042.20" x2="1784.60" y2="1042.20" stroke="#000" stroke-width="2.4" stroke-linecap="butt"/>
<text x="1837.40" y="1037.80" font-size="28.8" text-anchor="middle"><tspan font-style="italic">P</tspan>&lt;0.001</text>
<line x1="1787.80" y1="1042.20" x2="1883.70" y2="1042.20" stroke="#000" stroke-width="2.4" stroke-linecap="butt"/>
<text x="2057.30" y="992.70" font-size="28.8" text-anchor="middle"><tspan font-style="italic">P</tspan>&lt;0.001</text>
<line x1="1967.60" y1="996.30" x2="2161.20" y2="996.30" stroke="#000" stroke-width="2.4" stroke-linecap="butt"/>
<text x="2012.20" y="1039.80" font-size="28.8" text-anchor="middle"><tspan font-style="italic">P</tspan>&lt;0.001</text>
<line x1="1968.00" y1="1044.10" x2="2062.00" y2="1044.10" stroke="#000" stroke-width="2.4" stroke-linecap="butt"/>
<text x="2115.60" y="1039.80" font-size="28.8" text-anchor="middle"><tspan font-style="italic">P</tspan>&lt;0.001</text>
<line x1="2066.30" y1="1043.70" x2="2160.70" y2="1043.70" stroke="#000" stroke-width="2.4" stroke-linecap="butt"/>
<text x="2337.80" y="993.40" font-size="28.8" text-anchor="middle"><tspan font-style="italic">P</tspan>&lt;0.001</text>
<line x1="2247.30" y1="997.10" x2="2440.00" y2="997.10" stroke="#000" stroke-width="2.4" stroke-linecap="butt"/>
<text x="2292.80" y="1038.30" font-size="28.8" text-anchor="middle"><tspan font-style="italic">P</tspan>&lt;0.001</text>
<line x1="2248.00" y1="1042.90" x2="2342.40" y2="1042.90" stroke="#000" stroke-width="2.4" stroke-linecap="butt"/>
<text x="2395.90" y="1038.30" font-size="28.8" text-anchor="middle"><tspan font-style="italic">P</tspan>&lt;0.001</text>
<line x1="2346.10" y1="1042.70" x2="2440.50" y2="1042.70" stroke="#000" stroke-width="2.4" stroke-linecap="butt"/>
<rect x="1991.00" y="18.50" width="34.00" height="27.20" fill="#94C6DE" stroke="#000" stroke-width="1.8"/>
<text x="2048.40" y="47.00" font-size="43.5" text-anchor="start">20 °C</text>
<rect x="2163.20" y="18.50" width="34.00" height="27.20" fill="#2364AD" stroke="#000" stroke-width="1.8"/>
<text x="2220.60" y="47.00" font-size="43.5" text-anchor="start">25 °C</text>
<rect x="2335.40" y="18.50" width="34.00" height="27.20" fill="#B5182B" stroke="#000" stroke-width="1.8"/>
<text x="2392.80" y="47.00" font-size="43.5" text-anchor="start">30 °C</text>
</svg>
</body>
</html>
